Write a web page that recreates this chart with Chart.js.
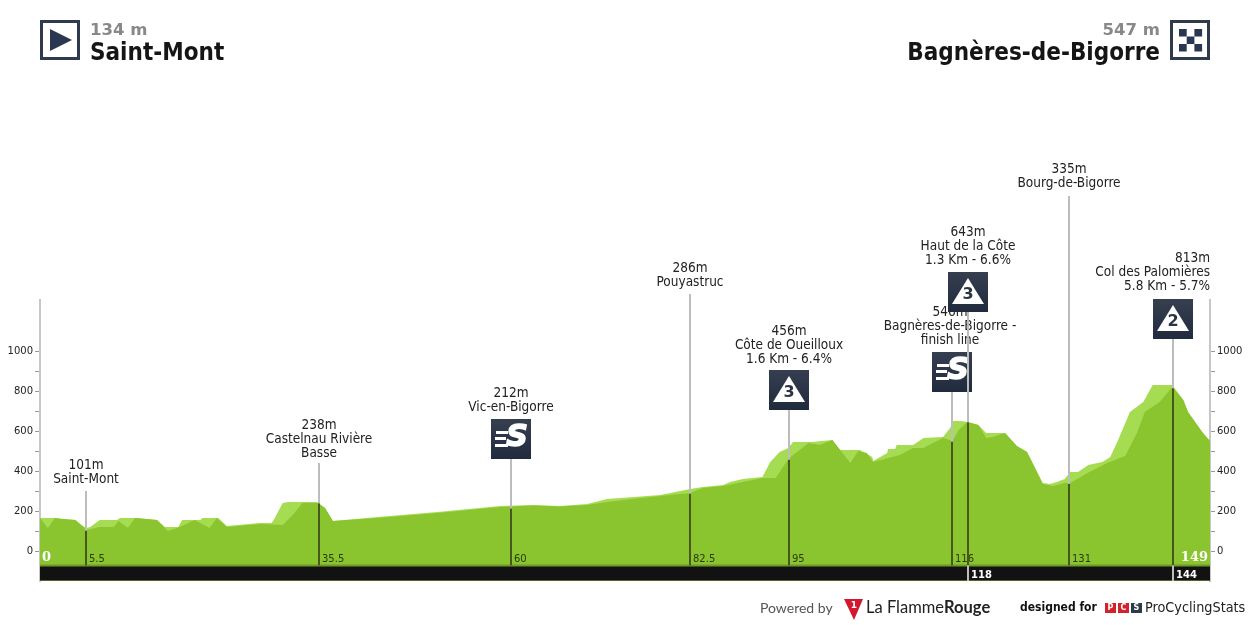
<!DOCTYPE html>
<html>
<head>
<meta charset="utf-8">
<title>Saint-Mont - Bagnères-de-Bigorre</title>
<script src="https://cdn.jsdelivr.net/npm/chart.js@4"></script>
<style>
html, body { margin: 0; padding: 0; background: #fff; }
#wrap { width: 1250px; height: 625px; }
</style>
</head>
<body>
<div id="wrap"><canvas id="profileChart" width="1250" height="625"></canvas></div>
<script>
// profile, km and metres
const lightKm = [0,1.9,2.9,4.5,5.1,5.9,6.4,7.6,9.8,10.2,12.4,14.9,15.9,17.6,18.1,20.4,20.7,22.7,23.8,28,29.5,29.9,30.9,31.6,35.3,36.3,37.3,43,50.6,58.6,62.8,66.2,69.7,72.2,79,82.8,84.4,87,87.9,89.5,92,93,94.2,95.3,95.9,98.3,100.9,101.9,104.4,106,106.1,107.9,108,108.9,109.1,111.2,112.5,115,115.9,116.3,117.2,118.2,119.5,120.5,122.9,124.4,125.7,127.7,128.6,129.5,130.5,131.2,132.2,133.5,135.3,136.3,137.3,138.8,140.5,141.7,144.2,145.6,146.2,148.1,149];
const lightAlt = [165,165,160,155,135,115,120,155,155,165,165,155,120,120,155,155,165,165,125,140,140,165,240,245,245,215,150,170,195,225,230,225,235,260,280,310,320,330,345,360,370,445,495,515,545,545,555,505,505,470,450,490,510,510,530,530,565,570,615,650,650,645,630,590,590,525,495,340,335,345,360,395,395,430,445,470,555,695,745,830,830,755,695,590,550];
const darkKm = [0,1,1.9,2.9,4.5,5.1,5.9,7.6,9.4,10,11.2,12.1,14.9,16.3,17.8,19.7,21.6,22.5,23.8,28,30.9,32.2,33.4,35.3,36.3,37.3,43,50.6,58.6,62.8,66.2,69.7,72.2,75.5,79,82.8,84.4,87,89.5,92,93.7,95.3,96.4,97.9,99.3,100.9,103.2,104.2,105.3,106.1,109.5,111.2,112.5,115,116.2,117,118.1,119.5,120.5,121.3,122.9,124.4,125.7,127.7,129,130.5,131.2,133.4,135.9,138.2,139.7,140.7,142.6,144.2,145.6,146.2,148.1,149];
const darkAlt = [165,115,165,160,155,135,105,120,120,150,115,165,155,100,120,155,115,165,120,135,130,180,240,240,215,150,165,190,220,228,222,230,245,260,275,290,315,325,345,365,365,460,495,540,530,555,440,500,490,445,480,515,515,565,550,605,645,630,565,570,590,525,495,335,325,340,340,390,440,475,590,695,745,820,755,695,590,550];

// markers along the route
const markerKm = [5.9, 35.5, 60, 82.8, 95.4, 116.2, 118.2, 131.1, 144.3];
const markerAlt = [101, 238, 212, 286, 456, 546, 643, 335, 813];
const markerTicks = ['5.5', '35.5', '60', '82.5', '95', '116', '118', '131', '144'];
const markerText = [
  ['101m', 'Saint-Mont'],
  ['238m', 'Castelnau Rivière', 'Basse'],
  ['212m', 'Vic-en-Bigorre'],
  ['286m', 'Pouyastruc'],
  ['456m', 'Côte de Oueilloux', '1.6 Km - 6.4%'],
  ['546m', 'Bagnères-de-Bigorre -', 'finish line'],
  ['643m', 'Haut de la Côte', '1.3 Km - 6.6%'],
  ['335m', 'Bourg-de-Bigorre'],
  ['813m', 'Col des Palomières', '5.8 Km - 5.7%']
];
const markerIcon = ['', '', 'S', '', '3', 'S', '3', '', '2'];

const axisTicks = [0, 100, 200, 300, 400, 500, 600, 700, 800, 900, 1000];

const startName = 'Saint-Mont', startAlt = '134 m';
const finishName = 'Bagnères-de-Bigorre', finishAlt = '547 m';

// layout of the markers, in page pixels: top of the pole, first text line
const poleTop = [491, 463, 459, 294, 410, 392, 312, 196, 339];
const textTop = [465, 425, 393, 268, 331, 312, 232, 169, 258];
const lineHeight = 14;

function pts(xs, ys) { return xs.map((x, i) => ({ x: x, y: ys[i] })); }

const labelFont = '13.5px "DejaVu Sans Condensed", "DejaVu Sans", sans-serif';

function drawIcon(c, cx, top, kind) {
  const x = cx - 20, s = 40;
  const g = c.createLinearGradient(0, top, 0, top + s);
  g.addColorStop(0, '#353f50');
  g.addColorStop(1, '#212b3e');
  c.fillStyle = g;
  c.fillRect(x, top, s, s);
  c.fillStyle = '#fff';
  if (kind === 'S') {
    c.fillRect(x + 5, top + 12, 12, 3);
    c.fillRect(x + 4, top + 18, 11, 3);
    c.fillRect(x + 4, top + 25, 13, 3);
    c.font = 'bold italic 30px "DejaVu Sans", sans-serif';
    c.textAlign = 'center';
    c.textBaseline = 'middle';
    c.strokeStyle = '#fff';
    c.lineWidth = 1.5;
    c.strokeText('S', x + 26, top + 19);
    c.fillText('S', x + 26, top + 19);
  } else {
    c.beginPath();
    c.moveTo(cx, top + 6);
    c.lineTo(x + 36, top + 32);
    c.lineTo(x + 4, top + 32);
    c.closePath();
    c.fill();
    c.fillStyle = '#2a3446';
    c.font = 'bold 16px "DejaVu Sans", sans-serif';
    c.textAlign = 'center';
    c.textBaseline = 'middle';
    c.fillText(kind, cx, top + 23);
  }
}

function drawHeader(c) {
  c.strokeStyle = '#2f3a4c';
  c.lineWidth = 3;
  c.strokeRect(41.5, 21.5, 37, 37);
  c.strokeRect(1171.5, 21.5, 37, 37);
  c.fillStyle = '#2a3750';
  c.beginPath();
  c.moveTo(50, 29);
  c.lineTo(72, 40);
  c.lineTo(50, 51);
  c.closePath();
  c.fill();
  for (let r = 0; r < 3; r++) {
    for (let k = 0; k < 3; k++) {
      if ((r + k) % 2 === 0) c.fillRect(1179 + k * 7.7, 29 + r * 7.5, 7.7, 7.5);
    }
  }
  c.textBaseline = 'alphabetic';
  c.textAlign = 'left';
  c.fillStyle = '#888';
  c.font = 'bold 16.5px "DejaVu Sans", sans-serif';
  c.fillText(startAlt, 90, 35);
  c.fillStyle = '#151515';
  c.font = 'bold 24px "DejaVu Sans Condensed", "DejaVu Sans", sans-serif';
  c.fillText(startName, 90, 60);
  c.textAlign = 'right';
  c.fillStyle = '#888';
  c.font = 'bold 16.5px "DejaVu Sans", sans-serif';
  c.fillText(finishAlt, 1160, 35);
  c.fillStyle = '#151515';
  c.font = 'bold 24px "DejaVu Sans Condensed", "DejaVu Sans", sans-serif';
  c.fillText(finishName, 1160, 60);
}

function drawFooter(c) {
  c.textBaseline = 'middle';
  c.textAlign = 'left';
  c.fillStyle = '#555';
  c.font = '14px Lato, sans-serif';
  c.fillText('Powered by', 760, 608);
  c.fillStyle = '#d2172f';
  c.beginPath();
  c.moveTo(844, 599);
  c.lineTo(863, 599);
  c.lineTo(854, 620);
  c.closePath();
  c.fill();
  c.fillStyle = '#fff';
  c.font = 'bold 9px "DejaVu Sans", sans-serif';
  c.textAlign = 'center';
  c.fillText('1', 854, 606);
  c.textAlign = 'left';
  c.fillStyle = '#222';
  c.font = '16.5px Lato, sans-serif';
  c.fillText('La Flamme', 866, 608);
  const w = c.measureText('La Flamme').width;
  c.font = 'bold 16.5px Lato, sans-serif';
  c.fillText('Rouge', 866 + w, 608);
  c.fillStyle = '#111';
  c.font = 'bold 12px "DejaVu Sans Condensed", "DejaVu Sans", sans-serif';
  c.fillText('designed for', 1020, 608);
  [['P', 1105, '#d2232a'], ['C', 1118, '#d2232a'], ['S', 1131, '#2f3a4c']].forEach(b => {
    c.fillStyle = b[2];
    c.fillRect(b[1], 603, 11, 10);
    c.fillStyle = '#fff';
    c.font = 'bold 8px "DejaVu Sans", sans-serif';
    c.textAlign = 'center';
    c.fillText(b[0], b[1] + 5.5, 608);
  });
  c.textAlign = 'left';
  c.fillStyle = '#222';
  c.font = '14.3px "DejaVu Sans Condensed", "DejaVu Sans", sans-serif';
  c.fillText('ProCyclingStats', 1145, 608);
}

const decorPlugin = {
  id: 'decor',
  afterDraw(chart) {
    const c = chart.ctx, xs = chart.scales.x, ys = chart.scales.y;
    const yBandTop = ys.getPixelForValue(-72), yBandBottom = ys.getPixelForValue(-150);
    c.save();
    markerKm.forEach((km, i) => {
      const px = Math.round(xs.getPixelForValue(km));
      const py = ys.getPixelForValue(markerAlt[i]);
      const lines = markerText[i];
      // label first, so the next marker's pole and icon run over it
      c.fillStyle = '#222';
      c.font = labelFont;
      c.textBaseline = 'middle';
      c.textAlign = i === 8 ? 'right' : 'center';
      const tx = i === 8 ? xs.right : (i === 5 ? px - 2 : px);
      lines.forEach((t, k) => c.fillText(t, tx, textTop[i] + k * lineHeight));
      // pole
      c.fillStyle = '#bdbdbd';
      c.fillRect(px - 1, poleTop[i], 2, py - poleTop[i]);
      c.fillStyle = '#47581f';
      c.fillRect(px - 1, py, 2, yBandTop - py);
      if (markerIcon[i]) drawIcon(c, px, poleTop[i] - 40, markerIcon[i]);
      // km under the profile
      c.textAlign = 'left';
      c.textBaseline = 'middle';
      if (i === 6 || i === 8) {
        c.fillStyle = '#bdbdbd';
        c.fillRect(px - 1, yBandTop, 2, yBandBottom - yBandTop);
        c.fillStyle = '#fff';
        c.font = 'bold 10px "DejaVu Sans", sans-serif';
        c.fillText(markerTicks[i], px + 3, 575);
      } else {
        c.fillStyle = '#2c3a14';
        c.font = '10px "DejaVu Sans", sans-serif';
        c.fillText(markerTicks[i], px + 3, 559);
      }
    });
    c.fillStyle = '#fff';
    c.font = 'bold 13px "DejaVu Serif", serif';
    c.textBaseline = 'middle';
    c.textAlign = 'left';
    c.fillText('0', xs.left + 2, 558);
    c.textAlign = 'right';
    c.fillText('149', xs.right - 2, 558);
    drawHeader(c);
    drawFooter(c);
    c.restore();
  }
};

function yAxis(position) {
  return {
    type: 'linear',
    position: position,
    min: -150,
    max: 1255,
    afterBuildTicks(axis) { axis.ticks = axisTicks.map(v => ({ value: v })); },
    border: { color: '#c8c8c8', width: 2 },
    grid: { drawOnChartArea: false, color: '#999', tickLength: 5 },
    ticks: {
      autoSkip: false,
      padding: 2,
      color: '#222',
      font: { family: '"DejaVu Sans", sans-serif', size: 10 },
      callback: v => (v % 200 === 0 ? String(v) : '')
    }
  };
}

const ctx = document.getElementById('profileChart').getContext('2d');

new Chart(ctx, {
  type: 'scatter',
  data: {
    datasets: [
      { label: 'band', data: pts([0, 149], [-72, -72]), showLine: true, pointRadius: 0, borderColor: '#6f9a25', borderWidth: 2, backgroundColor: '#121212', fill: { value: -148 }, order: 1 },
      { label: 'edge', data: pts([0, 149], [-149, -149]), showLine: true, pointRadius: 0, borderColor: '#8fb84a', borderWidth: 1.5, fill: false, order: 1 },
      { label: 'dark', data: pts(darkKm, darkAlt), showLine: true, pointRadius: 0, borderWidth: 0, backgroundColor: '#8ac42f', fill: { value: -72 }, order: 2 },
      { label: 'light', data: pts(lightKm, lightAlt), showLine: true, pointRadius: 0, borderWidth: 0, backgroundColor: '#a5dc52', fill: { value: -72 }, order: 3 }
    ]
  },
  options: {
    responsive: false,
    animation: false,
    layout: { padding: { top: 300, bottom: 44, left: 0, right: 0 } },
    plugins: { legend: { display: false }, tooltip: { enabled: false } },
    scales: {
      x: { type: 'linear', min: 0, max: 149, display: false },
      y: Object.assign(yAxis('left'), { afterFit(a) { a.width = 40; } }),
      y2: Object.assign(yAxis('right'), { afterFit(a) { a.width = 40; } })
    }
  },
  plugins: [decorPlugin]
});
</script>
</body>
</html>
